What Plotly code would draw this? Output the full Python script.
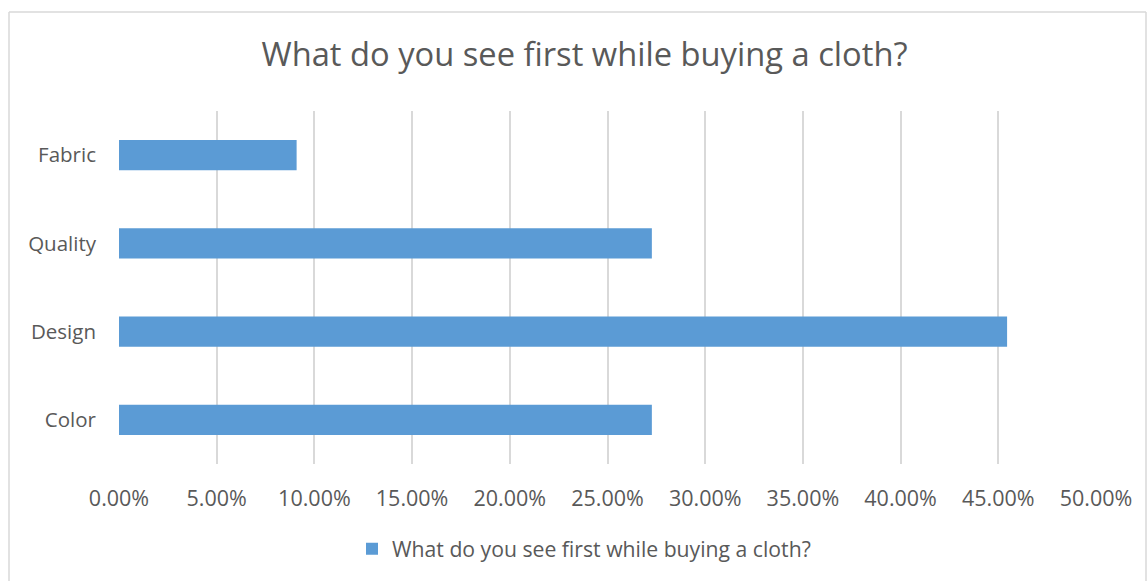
import plotly.graph_objects as go

categories = ["Color", "Design", "Quality", "Fabric"]
values = [27.27, 45.45, 27.27, 9.09]
tick_vals = [0, 5, 10, 15, 20, 25, 30, 35, 40, 45, 50]
tick_text = ["0.00%", "5.00%", "10.00%", "15.00%", "20.00%", "25.00%",
             "30.00%", "35.00%", "40.00%", "45.00%", "50.00%"]
series_name = "What do you see first while buying a cloth?"
title_text = "What do you see first while buying a cloth?"

FONT = "Open Sans, Liberation Sans, sans-serif"
GREY = "#595959"
W, H = 1147, 581
L, R, T, B = 119, 51, 111, 117
pw, ph = W - L - R, H - T - B

fig = go.Figure()
fig.add_trace(go.Bar(
    y=categories, x=values, orientation="h", name=series_name,
    marker=dict(color="#5b9bd5", line=dict(width=0)), width=0.34,
    showlegend=True,
))

def px_x(x):
    return (x - L) / pw

def px_y(y):
    return (H - B - y) / ph

border = dict(color="#d9d9d9", width=1.5)
fig.add_shape(type="line", xref="paper", yref="paper",
              x0=px_x(9), x1=px_x(9), y0=px_y(12), y1=px_y(600), line=border)
fig.add_shape(type="line", xref="paper", yref="paper",
              x0=px_x(9), x1=px_x(1146), y0=px_y(12), y1=px_y(12), line=border)
fig.add_shape(type="line", xref="paper", yref="paper",
              x0=px_x(1146), x1=px_x(1146), y0=px_y(12), y1=px_y(600), line=border)

fig.update_layout(
    width=W, height=H,
    margin=dict(l=L, r=R, t=T, b=B, pad=0),
    paper_bgcolor="white", plot_bgcolor="white",
    font=dict(family=FONT, color=GREY, size=20),
    title=dict(text=title_text, x=584.5 / W, xanchor="center",
               y=1 - 55 / H, yanchor="middle",
               font=dict(size=32.7, color=GREY, family=FONT)),
    xaxis=dict(range=[0, 50], tickvals=tick_vals, ticktext=tick_text,
               showgrid=True, gridcolor="#d9d9d9", gridwidth=1.5,
               zeroline=False, showline=False, ticks="",
               ticklabelstandoff=19, tickfont=dict(size=21.5, color=GREY)),
    yaxis=dict(range=[-0.5, 3.5], showgrid=False, zeroline=False,
               showline=False, ticks="", ticklabelstandoff=22,
               tickfont=dict(size=20.5, color=GREY)),
    legend=dict(orientation="h", xanchor="left",
                y=px_y(549), yanchor="middle",
                font=dict(size=21.2, color=GREY), itemwidth=30),
    bargap=0.66,
)
fig.update_layout(legend_x=px_x(352))
fig.write_html("out.html", config={"displayModeBar": False},
               post_script="document.body.style.margin='0';document.body.style.padding='0';")
